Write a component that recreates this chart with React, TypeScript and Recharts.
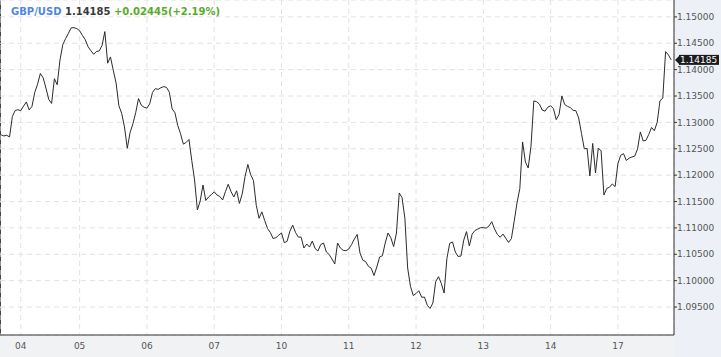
import React from 'react';
import { LineChart, Line, XAxis, YAxis, CartesianGrid, ReferenceLine } from 'recharts';

const pair = 'GBP/USD';
const lastPrice = 1.14185;
const change = 0.02445;
const changePct = 2.19;

const dayLabels = ['04', '05', '06', '07', '10', '11', '12', '13', '14', '17'];

// hourly closes, one array per session (first is the tail of the 3rd)
const tail03 = [1.12764, 1.12743, 1.12756, 1.12724, 1.13109, 1.13225, 1.1324];
const day04 = [
  1.13223, 1.13308, 1.13388, 1.13236, 1.13303, 1.13568, 1.13724, 1.13928, 1.13843, 1.13648, 1.13435,
  1.13359, 1.13828, 1.13714, 1.14184, 1.14475, 1.14587, 1.14689, 1.14793, 1.14795, 1.14778,
];
const day05 = [
  1.14738, 1.14647, 1.14568, 1.14437, 1.14359, 1.14291, 1.14344, 1.14355, 1.14459, 1.14721, 1.14122, 1.14241,
  1.13987, 1.13748, 1.13316, 1.13172, 1.12914, 1.1251, 1.12809, 1.12973, 1.13183, 1.13452, 1.13325, 1.13287,
];
const day06 = [
  1.1327, 1.13352, 1.1357, 1.1364, 1.13625, 1.13657, 1.13678, 1.13663, 1.13572, 1.13255, 1.13183, 1.1294,
  1.12785, 1.12588, 1.1262, 1.12677, 1.12277, 1.11909, 1.1134, 1.1151, 1.11814, 1.1152, 1.11586, 1.11632,
];
const day07 = [
  1.11685, 1.11624, 1.11596, 1.11529, 1.11687, 1.11827, 1.11687, 1.11586, 1.11704, 1.11463, 1.11647, 1.11971,
  1.12203, 1.12009, 1.11899, 1.11429, 1.11182, 1.11304, 1.11142, 1.10989, 1.10915, 1.10799, 1.10814, 1.1086,
];
const day10 = [
  1.10905, 1.10719, 1.10746, 1.10939, 1.11053, 1.10913, 1.10827, 1.10824, 1.10619, 1.10695, 1.10638, 1.10752,
  1.10609, 1.10562, 1.10685, 1.10714, 1.10543, 1.10496, 1.1041, 1.10315, 1.10714, 1.10619, 1.10575, 1.10568,
];
const day11 = [
  1.106, 1.10685, 1.1079, 1.10875, 1.10524, 1.10387, 1.10361, 1.10272, 1.10236, 1.10097, 1.10259, 1.10448,
  1.10473, 1.10714, 1.10903, 1.10812, 1.10647, 1.10903, 1.11662, 1.11575, 1.11188, 1.1024, 1.09894, 1.09718,
];
const day12 = [
  1.09756, 1.09809, 1.09686, 1.09689, 1.09534, 1.09473, 1.09576, 1.09982, 1.10076, 1.09949, 1.09765, 1.1042,
  1.10708, 1.10733, 1.10543, 1.10458, 1.10467, 1.10767, 1.1093, 1.10657, 1.10881, 1.10951, 1.10977, 1.11004,
];
const day13 = [
  1.11006, 1.10996, 1.11036, 1.11118, 1.10979, 1.10875, 1.10824, 1.10883, 1.10803, 1.10725, 1.10797, 1.11127,
  1.11472, 1.11744, 1.12629, 1.1225, 1.12136, 1.12553, 1.13407, 1.13392, 1.13346, 1.13234, 1.13213, 1.13289,
];
const day14 = [
  1.13316, 1.13259, 1.13052, 1.13151, 1.13502, 1.1334, 1.13304, 1.13282, 1.13229, 1.13221, 1.13084, 1.1279,
  1.125, 1.12506, 1.11984, 1.12601, 1.12041, 1.12515, 1.12459, 1.11624, 1.11747, 1.11772, 1.11833, 1.11783,
];
const day17 = [
  1.1222, 1.12377, 1.12407, 1.12278, 1.12322, 1.12345, 1.1236, 1.12497, 1.12819, 1.12648, 1.1266, 1.12772,
  1.12904, 1.12842, 1.13001, 1.13411, 1.13458, 1.14342, 1.14279, 1.14185,
];

const sessions = [tail03, day04, day05, day06, day07, day10, day11, day12, day13, day14, day17];

const yTicks = [1.095, 1.1, 1.105, 1.11, 1.115, 1.12, 1.125, 1.13, 1.135, 1.14, 1.145, 1.15];

const data = sessions.flat().map((price, i) => ({ i, price }));

// index where each labelled session begins
const dayStarts = sessions
  .slice(1)
  .map((_, k) => sessions.slice(0, k + 1).reduce((n, s) => n + s.length, 0));

const font = 'DejaVu Sans, sans-serif';

const PriceTag = ({ viewBox }: any) => {
  if (!viewBox) return null;
  const x = viewBox.x + viewBox.width;
  const y = viewBox.y;
  return (
    <g>
      <polygon points={`${x + 1},${y} ${x + 6},${y - 5} ${x + 6},${y + 5}`} fill="#1c1c1c" />
      <rect x={x + 5} y={y - 5} width={40} height={10} fill="#1c1c1c" />
      <text x={x + 6} y={y} dy="0.36em" fill="#fff" fontSize={9} fontFamily={font}>
        {lastPrice.toFixed(5)}
      </text>
    </g>
  );
};

const App: React.FC = () => {
  return (
    <div
      style={{
        position: 'absolute',
        left: 0,
        top: 0,
        width: 721,
        height: 357,
        background: '#edf1f7',
        fontFamily: font,
      }}
    >
      <div
        style={{
          position: 'absolute',
          left: 0,
          top: 0,
          width: 674,
          height: 335,
          background: '#fff',
          borderLeft: '1px solid #444',
          boxSizing: 'border-box',
        }}
      />
      <div
        style={{
          position: 'absolute',
          left: 0,
          top: 335,
          width: 674,
          height: 22,
          background: '#f1f2f4',
        }}
      />
      <div style={{ position: 'absolute', left: 0, top: 0 }}>
        <LineChart width={721} height={357} data={data} margin={{ top: 0, right: 0, bottom: 0, left: 0 }}>
          <CartesianGrid stroke="#e2e2e2" strokeDasharray="5 4" />
          <XAxis
            type="number"
            dataKey="i"
            domain={[-0.4, 240]}
            ticks={dayStarts}
            interval={0}
            allowDataOverflow
            height={22}
            tickLine={false}
            axisLine={{ stroke: '#333' }}
            tickFormatter={(v: number) => dayLabels[dayStarts.indexOf(v)]}
            tick={{ fill: '#555', fontSize: 9, fontFamily: font }}
          />
          <YAxis
            orientation="right"
            width={47}
            domain={[1.0897, 1.1532]}
            ticks={yTicks}
            interval={0}
            allowDataOverflow
            tickSize={3}
            tickMargin={0}
            axisLine={{ stroke: '#333' }}
            tickLine={{ stroke: '#333' }}
            tickFormatter={(v: number) => v.toFixed(5)}
            tick={{ fill: '#555', fontSize: 9, fontFamily: font }}
          />
          <Line
            type="linear"
            dataKey="price"
            stroke="#2b2b2b"
            strokeWidth={1}
            dot={false}
            activeDot={false}
            isAnimationActive={false}
          />
          <ReferenceLine y={lastPrice} stroke="none" label={{ content: (p: any) => <PriceTag {...p} /> }} />
        </LineChart>
      </div>
      <div
        style={{
          position: 'absolute',
          left: 11,
          top: 6,
          fontSize: 10,
          lineHeight: '12px',
          fontWeight: 'bold',
          whiteSpace: 'nowrap',
        }}
      >
        <span style={{ color: '#4f86e6' }}>{pair}</span>{' '}
        <span style={{ color: '#3a3a3a' }}>{lastPrice.toFixed(5)}</span>{' '}
        <span style={{ color: '#5aaa2c' }}>
          +{change.toFixed(5)}(+{changePct.toFixed(2)}%)
        </span>
      </div>
    </div>
  );
};

export default App;
